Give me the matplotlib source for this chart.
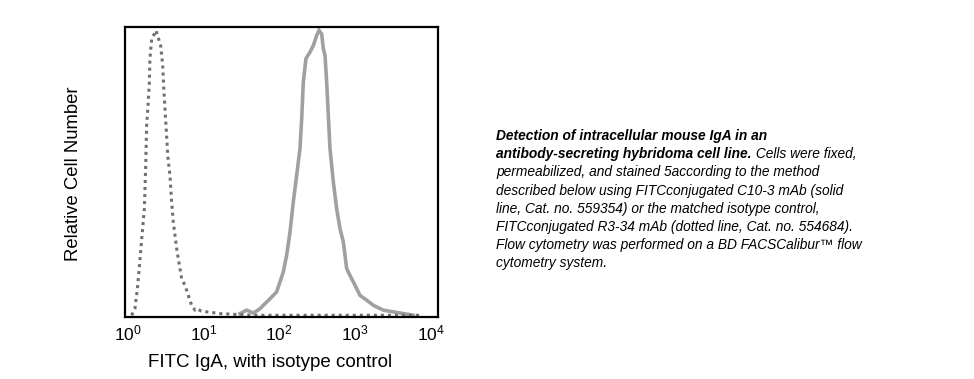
import matplotlib
matplotlib.use("Agg")
import matplotlib.pyplot as plt

plt.rcParams['font.family'] = ['Liberation Sans', 'DejaVu Sans']
plt.rcParams['mathtext.fontset'] = 'custom'
plt.rcParams['mathtext.rm'] = 'Liberation Sans'
plt.rcParams['mathtext.it'] = 'Liberation Sans:italic'

# Isotype control (dotted line): FITC intensity vs relative count
iso_x = [1.133, 1.253, 1.352, 1.428, 1.504, 1.582, 1.669, 1.735, 1.789, 1.866, 1.944, 1.976,
         2.087, 2.263, 2.373, 2.493, 2.736, 2.912, 3.023, 3.122, 3.276, 3.387, 3.628, 3.818,
         4.017, 4.227, 4.448, 4.670, 4.914, 5.170, 5.723, 6.325, 7.006, 7.753, 8.153, 9.392,
         11.07, 16.57, 44.98, 228.9, 1165, 7135]
iso_y = [0, 2.3, 9.4, 16.4, 23.4, 30.4, 37.4, 51.5, 66.7, 73.7, 81.9, 90.1,
         97.1, 98.8, 100, 98.2, 94.7, 87.7, 78.4, 72.5, 63.2, 56.1, 49.1, 39.8,
         32.7, 28.1, 23.4, 19.9, 16.4, 12.9, 10.5, 7.0, 3.5, 1.8, 2.3, 1.5,
         1.2, 0.6, 0, 0, 0, 0]

# C10-3 stained (solid line)
igA_x = [30.34, 37.13, 45.54, 55.66, 61.61, 75.43, 92.36, 102.1, 113.0, 125.1, 138.4, 153.0,
         169.4, 187.3, 197.3, 207.3, 224.8, 253.8, 280.9, 310.6, 333.6, 361.6, 380.3, 400.5,
         420.7, 442.5, 465.6, 515.1, 570.3, 630.4, 698.4, 772.0, 853.3, 945.2, 1157, 1417,
         1733, 2344, 3180, 4304, 5838]
igA_y = [0.6, 1.8, 0.8, 2.3, 3.5, 5.8, 8.2, 11.7, 15.2, 21.1, 29.2, 39.8,
         49.1, 58.5, 69.0, 81.9, 90.1, 92.4, 94.7, 98.2, 100, 98.8, 93.6, 91.2,
         81.9, 70.2, 58.5, 46.8, 37.4, 30.4, 25.7, 16.4, 14.0, 11.7, 7.0, 5.3,
         3.5, 1.8, 1.2, 0.6, 0]

tick_vals = [1, 10, 100, 1000, 10000]
tick_labels = ['$10^{0}$', '$10^{1}$', '$10^{2}$', '$10^{3}$', '$10^{4}$']

fig = plt.figure(figsize=(9.74, 3.79), dpi=100)
ax = fig.add_axes([0.1283, 0.1636, 0.3214, 0.7652])

ax.plot(igA_x, igA_y, color='#a0a0a0', lw=2.6, solid_joinstyle='miter')
ax.plot(iso_x, iso_y, color='#707070', lw=2.2, linestyle=(0, (1, 1.3)))

ax.set_xscale('log')
ax.set_xlim(10 ** -0.033, 10 ** 4.091)
ax.set_ylim(-0.6, 101.2)
ax.set_xticks(tick_vals)
ax.set_xticklabels(tick_labels, fontsize=12.5)
ax.minorticks_off()
ax.tick_params(axis='x', which='major', length=0, pad=5)
ax.set_yticks([])
for s in ax.spines.values():
    s.set_linewidth(1.6)
ax.set_xlabel('FITC IgA, with isotype control', fontsize=13.5)
ax.xaxis.set_label_coords(0.463, -0.128)
ax.set_ylabel('Relative Cell Number', fontsize=13.3)
ax.yaxis.set_label_coords(-0.137, 0.495)

# Caption
cap_lines = [
    [("Detection of intracellular mouse IgA in an", 'bold')],
    [("antibody-secreting hybridoma cell line.", 'bold'), (" Cells were fixed,", 'normal')],
    [("permeabilized, and stained 5according to the method", 'normal')],
    [("described below using FITCconjugated C10-3 mAb (solid", 'normal')],
    [("line, Cat. no. 559354) or the matched isotype control,", 'normal')],
    [("FITCconjugated R3-34 mAb (dotted line, Cat. no. 554684).", 'normal')],
    [("Flow cytometry was performed on a BD FACSCalibur\u2122 flow", 'normal')],
    [("cytometry system.", 'normal')],
]
cap_size = {'bold': 9.9, 'normal': 9.9}
x0 = 496 / 974
y0 = 1 - 140 / 379
dy = 18.2 / 379
renderer = fig.canvas.get_renderer()
for i, parts in enumerate(cap_lines):
    x = x0
    y = y0 - i * dy
    for txt, w in parts:
        t = fig.text(x, y, txt, fontsize=cap_size[w], style='italic', weight=w,
                     ha='left', va='baseline')
        bb = t.get_window_extent(renderer=renderer)
        x = bb.x1 / fig.bbox.width

fig.savefig('out.png', dpi=100)
